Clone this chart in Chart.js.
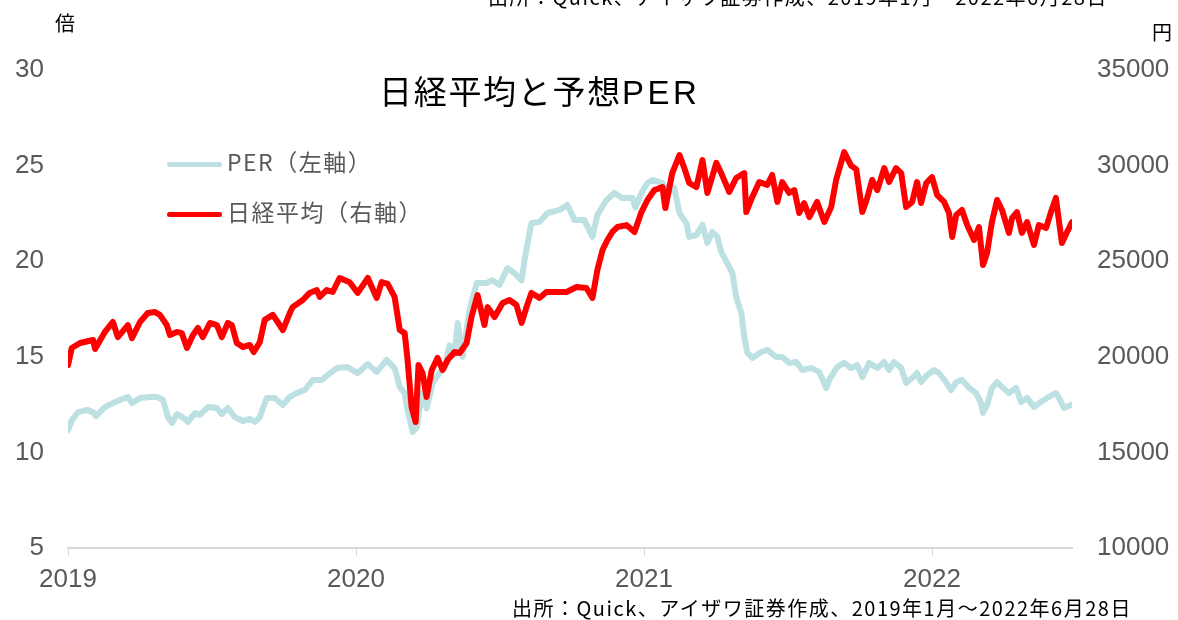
<!DOCTYPE html>
<html><head><meta charset="utf-8">
<script src="https://cdn.jsdelivr.net/npm/chart.js@4.4.1/dist/chart.umd.min.js"></script>
<style>
body{margin:0;background:#fff;}
#wrap{position:relative;width:1178px;height:620px;overflow:hidden;}
canvas{position:absolute;left:0;top:0;}
.t{position:absolute;white-space:nowrap;font-family:"Noto Sans CJK JP","Liberation Sans",sans-serif;}
</style></head><body>
<div id="wrap">
<canvas id="c" width="1178" height="620"></canvas>
<div class="t" style="left:488px;top:-18px;font-size:20px;letter-spacing:1.5px;color:#000;">出所：Quick、アイザワ証券作成、2019年1月～2022年6月28日</div>
<div class="t" style="left:55px;top:8px;font-size:20px;color:#000;">倍</div>
<div class="t" style="left:1152px;top:17px;font-size:20px;color:#000;">円</div>
<div class="t" style="left:379px;top:66px;font-size:33px;letter-spacing:1.7px;color:#000;">日経平均と予想<span style="font-family:'Liberation Sans',Arial,sans-serif;letter-spacing:3.5px;">PER</span></div>
<div class="t" style="left:167px;top:144px;font-size:23px;letter-spacing:1.5px;color:#595959;"><span style="display:inline-block;width:55px;height:5px;border-radius:3px;background:#BDE0E3;vertical-align:middle;margin-right:5px;"></span>PER（左軸）</div>
<div class="t" style="left:167px;top:194px;font-size:23px;letter-spacing:1.5px;color:#595959;"><span style="display:inline-block;width:55px;height:5px;border-radius:3px;background:#FF0000;vertical-align:middle;margin-right:5px;"></span>日経平均（右軸）</div>
<div class="t" style="left:512px;top:593px;font-size:20px;letter-spacing:1.5px;color:#000;">出所：Quick、アイザワ証券作成、2019年1月～2022年6月28日</div>
</div>
<script>
const yearTicks = [2019, 2020, 2021, 2022];
const perLeftTicks = [5, 10, 15, 20, 25, 30];
const nikkeiRightTicks = [10000, 15000, 20000, 25000, 30000, 35000];

const nikkeiT = [2019.000,2019.013,2019.042,2019.087,2019.094,2019.128,2019.156,2019.173,2019.208,2019.222,2019.250,2019.277,2019.302,2019.319,2019.343,2019.354,2019.378,2019.395,2019.413,2019.434,2019.451,2019.468,2019.493,2019.517,2019.534,2019.555,2019.569,2019.586,2019.607,2019.631,2019.645,2019.666,2019.683,2019.711,2019.728,2019.746,2019.770,2019.780,2019.815,2019.839,2019.864,2019.874,2019.898,2019.919,2019.943,2019.978,2020.006,2020.041,2020.072,2020.089,2020.110,2020.134,2020.152,2020.169,2020.179,2020.193,2020.207,2020.217,2020.231,2020.245,2020.263,2020.283,2020.301,2020.318,2020.342,2020.360,2020.384,2020.401,2020.422,2020.446,2020.457,2020.481,2020.509,2020.533,2020.557,2020.575,2020.592,2020.609,2020.637,2020.661,2020.696,2020.731,2020.766,2020.800,2020.821,2020.838,2020.856,2020.873,2020.890,2020.908,2020.939,2020.967,2020.991,2021.012,2021.036,2021.064,2021.074,2021.098,2021.123,2021.140,2021.157,2021.182,2021.203,2021.220,2021.251,2021.268,2021.296,2021.320,2021.348,2021.355,2021.376,2021.400,2021.428,2021.445,2021.463,2021.480,2021.504,2021.522,2021.539,2021.556,2021.574,2021.601,2021.626,2021.650,2021.667,2021.695,2021.719,2021.737,2021.758,2021.775,2021.792,2021.810,2021.834,2021.851,2021.875,2021.893,2021.910,2021.931,2021.948,2021.962,2021.980,2022.000,2022.018,2022.042,2022.059,2022.070,2022.084,2022.104,2022.122,2022.146,2022.163,2022.177,2022.191,2022.208,2022.226,2022.243,2022.267,2022.278,2022.295,2022.312,2022.330,2022.354,2022.371,2022.396,2022.413,2022.430,2022.451,2022.468,2022.486];
const nikkeiV = [19560,20460,20720,20880,20410,21300,21820,21030,21660,20980,21820,22290,22340,22190,21660,21140,21300,21240,20460,21140,21510,21030,21770,21660,21030,21770,21660,20720,20510,20620,20250,20770,21930,22190,21820,21400,22290,22600,22970,23340,23490,23130,23490,23390,24120,23900,23340,24120,23080,23910,23810,23130,21400,21240,19830,17380,16590,19570,19150,17900,19310,19940,19310,19830,20250,20200,20720,22080,23230,21660,22600,22080,22810,22970,22710,21770,22600,23340,23080,23390,23390,23390,23650,23600,23080,24540,25590,26110,26530,26790,26890,26530,27570,28200,28720,28880,27780,29610,30550,29870,29090,28880,30290,28570,30140,29610,28620,29350,29610,27570,28360,29140,28990,29510,28100,29140,28570,28720,27520,28040,27310,28100,27050,27830,29250,30710,30000,29800,27570,28310,29250,28720,29870,29140,29870,29610,27830,28100,29140,28040,29090,29400,28460,28100,27520,26270,27420,27680,26890,26110,26790,24800,25430,27050,28200,27680,26480,27260,27570,26480,27050,25850,26890,26740,27570,28310,25950,26500,27050];

const perT = [2019.000,2019.014,2019.035,2019.066,2019.087,2019.097,2019.128,2019.156,2019.180,2019.208,2019.222,2019.250,2019.284,2019.309,2019.330,2019.347,2019.361,2019.378,2019.406,2019.416,2019.441,2019.458,2019.486,2019.517,2019.534,2019.555,2019.579,2019.607,2019.631,2019.649,2019.666,2019.690,2019.718,2019.746,2019.770,2019.794,2019.822,2019.850,2019.881,2019.902,2019.933,2019.968,2020.006,2020.041,2020.072,2020.106,2020.134,2020.152,2020.169,2020.179,2020.197,2020.211,2020.228,2020.245,2020.266,2020.290,2020.308,2020.325,2020.342,2020.353,2020.370,2020.394,2020.419,2020.453,2020.474,2020.498,2020.526,2020.550,2020.575,2020.585,2020.609,2020.637,2020.665,2020.707,2020.734,2020.759,2020.793,2020.821,2020.838,2020.870,2020.897,2020.925,2020.960,2020.970,2020.991,2021.012,2021.029,2021.064,2021.081,2021.105,2021.123,2021.147,2021.157,2021.182,2021.203,2021.220,2021.237,2021.255,2021.268,2021.289,2021.307,2021.320,2021.338,2021.348,2021.359,2021.376,2021.407,2021.428,2021.459,2021.480,2021.504,2021.529,2021.549,2021.581,2021.608,2021.633,2021.643,2021.671,2021.695,2021.719,2021.740,2021.758,2021.782,2021.810,2021.834,2021.851,2021.868,2021.893,2021.910,2021.931,2021.948,2021.962,2021.983,2022.007,2022.024,2022.049,2022.066,2022.084,2022.104,2022.129,2022.153,2022.170,2022.177,2022.191,2022.208,2022.226,2022.243,2022.267,2022.292,2022.309,2022.330,2022.354,2022.378,2022.399,2022.430,2022.441,2022.458,2022.482];
const perV = [11.17,11.7,12.11,12.22,12.11,11.9,12.37,12.58,12.74,12.9,12.58,12.85,12.9,12.9,12.74,11.85,11.54,12.0,11.75,11.59,12.06,11.96,12.37,12.32,12.0,12.32,11.85,11.64,11.75,11.59,11.85,12.85,12.85,12.48,12.9,13.1,13.26,13.79,13.79,14.05,14.41,14.47,14.15,14.62,14.21,14.83,14.41,13.42,13.1,12.2,11.07,11.3,13.1,12.3,13.63,14.15,14.47,15.6,15.1,16.77,15.0,17.45,18.86,18.86,19.0,18.76,19.64,19.38,19.0,20.06,22.0,22.05,22.52,22.68,22.94,22.15,22.15,21.27,22.42,23.2,23.57,23.3,23.3,22.8,23.57,24.09,24.25,24.09,23.57,23.83,22.52,22.0,21.27,21.37,21.9,20.95,21.53,21.27,20.48,19.9,19.38,18.13,17.29,16.04,15.2,14.94,15.25,15.36,14.99,14.99,14.68,14.73,14.31,14.41,14.21,13.37,13.79,14.47,14.68,14.41,14.57,13.94,14.68,14.41,14.73,14.31,14.73,14.41,13.63,13.89,14.15,13.68,14.05,14.31,14.15,13.68,13.26,13.68,13.79,13.37,13.1,12.58,12.06,12.48,13.37,13.68,13.42,13.1,13.37,12.64,12.85,12.37,12.64,12.85,13.1,12.85,12.32,12.48];

const pts = (t, v) => t.map((x, i) => ({x: x, y: v[i]}));
const tickFont = {family: "'Liberation Sans', Arial, sans-serif", size: 26};
const grey = '#595959';

new Chart(document.getElementById('c'), {
  type: 'line',
  data: {
    datasets: [
      {label: '日経平均（右軸）', data: pts(nikkeiT, nikkeiV), yAxisID: 'y2', borderColor: '#FF0000', borderWidth: 6, pointRadius: 0, tension: 0, borderJoinStyle: 'round', borderCapStyle: 'round'},
      {label: 'PER（左軸）', data: pts(perT, perV), yAxisID: 'y', borderColor: '#BDE0E3', borderWidth: 6, pointRadius: 0, tension: 0, borderJoinStyle: 'round', borderCapStyle: 'round'}
    ]
  },
  options: {
    responsive: false, animation: false, events: [],
    layout: {padding: {top: 70, bottom: 0, left: 0, right: 0}},
    plugins: {legend: {display: false}, tooltip: {enabled: false}, title: {display: false}},
    scales: {
      x: {
        type: 'linear', min: 2019, max: 2022.486,
        afterBuildTicks: s => { s.ticks = yearTicks.map(v => ({value: v})); },
        afterFit: s => { s.height = 72; },
        ticks: {font: tickFont, color: grey, padding: 8, autoSkip: false, includeBounds: false, maxRotation: 0, callback: v => String(v)},
        grid: {display: true, drawOnChartArea: false, drawTicks: true, tickLength: 8, color: '#D9D9D9', lineWidth: 1},
        border: {display: true, color: '#D9D9D9', width: 2}
      },
      y: {
        position: 'left', min: 5, max: 30,
        afterBuildTicks: s => { s.ticks = perLeftTicks.map(v => ({value: v})); },
        afterFit: s => { s.width = 68; },
        ticks: {font: tickFont, color: grey, padding: 24},
        grid: {display: false, drawTicks: false},
        border: {display: false}
      },
      y2: {
        position: 'right', min: 10000, max: 35000,
        afterBuildTicks: s => { s.ticks = nikkeiRightTicks.map(v => ({value: v})); },
        afterFit: s => { s.width = 106; },
        ticks: {font: tickFont, color: grey, padding: 25, callback: v => String(v)},
        grid: {display: false, drawTicks: false},
        border: {display: false}
      }
    }
  }
});
</script>
</body></html>
